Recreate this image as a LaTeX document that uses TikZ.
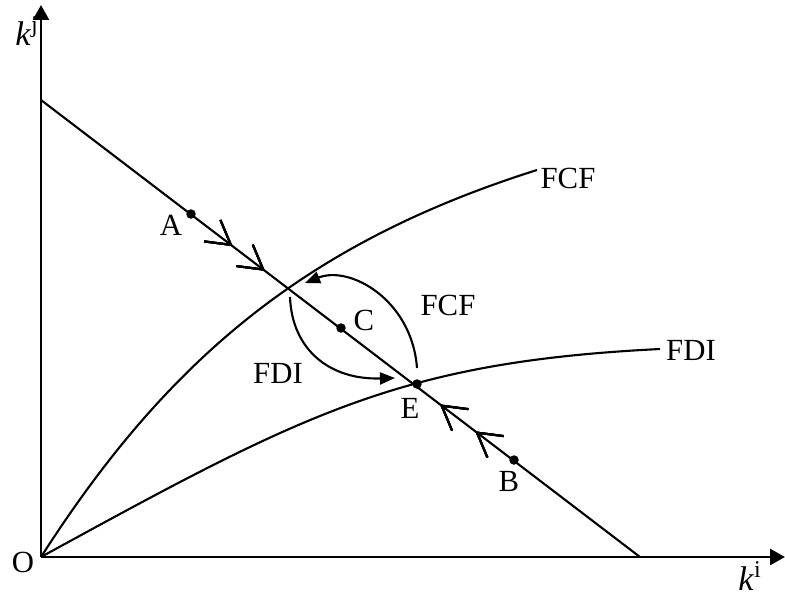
\documentclass[tikz,border=0pt]{standalone}
\usepackage{fontspec}
\setmainfont{Liberation Serif}
\usetikzlibrary{arrows.meta,decorations.markings}
\tikzset{
  lbl/.style={inner sep=0pt,font=\fontsize{17.5}{20}\selectfont},
  axlbl/.style={inner sep=0pt,font=\fontsize{19.5}{22}\selectfont},
  axis/.style={line width=1.5pt,-{Triangle[length=0.3cm,width=0.32cm]}},
  curve/.style={line width=1.2pt},
  turn/.style={line width=1.2pt,-{Triangle[length=0.3cm,width=0.24cm]}},
  pt/.style={circle,fill=black,inner sep=0pt,minimum size=0.19cm},
  fwd/.style={decoration={markings,mark=at position #1 with {\draw[line width=1.2pt] (-0.468cm,0.27cm) -- (0,0) -- (-0.468cm,-0.27cm);}},postaction={decorate}},
  bwd/.style={decoration={markings,mark=at position #1 with {\draw[line width=1.2pt] (0.468cm,0.27cm) -- (0,0) -- (0.468cm,-0.27cm);}},postaction={decorate}},
}
\begin{document}
\begin{tikzpicture}[x=0.02cm,y=-0.02cm]
\useasboundingbox (0,0) rectangle (785,602);
% axes
\coordinate (O) at (41,557);
\coordinate (ytop) at (41,5);
\coordinate (xend) at (785,557);
\draw[axis] (O) -- (ytop);
\draw[axis] (O) -- (xend);
% line through A, C, E, B
\coordinate (L1) at (41,100);
\coordinate (L2) at (640,557);
\draw[curve,fwd=0.317,fwd=0.371,bwd=0.669,bwd=0.728] (L1) -- (L2);
% FCF curve
\coordinate (fcfend) at (537,170);
\draw[curve] (O) .. controls (169,357) and (309,242) .. (fcfend);
% FDI curve
\coordinate (fdiend) at (660,349);
\draw[curve] (O) .. controls (304,413) and (400,362) .. (fdiend);
% points
\node[pt] (A) at (191,214) {};
\node[pt] (C) at (341,328) {};
\node[pt] (E) at (417,384) {};
\node[pt] (B) at (514,460) {};
% turning arrows
\coordinate (fcfs) at (417,368);
\coordinate (fcft) at (305,283);
\draw[turn] (fcfs) .. controls (412,300) and (350,265) .. (fcft);
\coordinate (fdis) at (290,297);
\coordinate (fdit) at (395,378);
\draw[turn] (fdis) .. controls (292,350) and (330,380) .. (fdit);
% labels
\node[lbl] (lA) at (171,225) {A};
\node[lbl] (lC) at (364,320) {C};
\node[lbl] (lE) at (410,408) {E};
\node[lbl] (lB) at (509,481) {B};
\node[lbl] (lO) at (23,562) {O};
\node[lbl] (lFCF1) at (568,178) {FCF};
\node[lbl] (lFDI1) at (691,350) {FDI};
\node[lbl] (lFCF2) at (448,305) {FCF};
\node[lbl] (lFDI2) at (278,373) {FDI};
\node[axlbl] (kj) at (27,31) {\itshape k\/\upshape\textsuperscript{j}};
\node[axlbl] (ki) at (750,576) {\itshape k\/\upshape\textsuperscript{i}};
\end{tikzpicture}
\end{document}
